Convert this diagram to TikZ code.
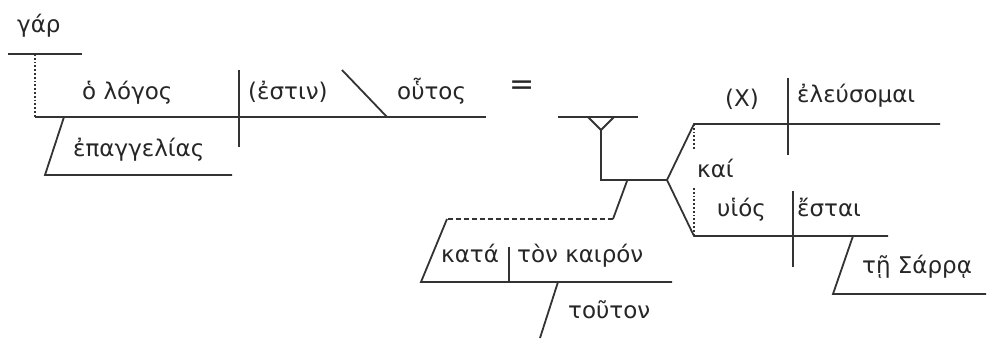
\documentclass[tikz,border=0pt]{standalone}
\usepackage{fontspec}
\newfontfamily\grk{DejaVu Sans}
\usetikzlibrary{positioning}

\begin{document}
\begin{tikzpicture}[
    x=1pt, y=-1pt,
    every node/.style={font=\grk\fontsize{23}{27}\selectfont, inner sep=0pt, text=black!85},
    word/.style={anchor=base west},
    rule/.style={draw=black!80, line width=1.8pt},
    dots/.style={rule, dotted},
    dashrule/.style={rule, dash pattern=on 5pt off 3pt},
  ]
  \useasboundingbox (0,0) rectangle (988,339);

  % Points of the main clause
  \coordinate (gar-l)  at (8, 54);
  \coordinate (gar-r)  at (82, 54);
  \coordinate (gar-d)  at (35, 54);
  \coordinate (base-l) at (35, 117);
  \coordinate (base-r) at (486, 117);
  \coordinate (div1-t) at (239, 70);
  \coordinate (div1-b) at (239, 147);
  \coordinate (pn-t)   at (342, 70);
  \coordinate (pn-b)   at (387, 117);
  \coordinate (mod1-t) at (64, 117);
  \coordinate (mod1-b) at (45, 175);
  \coordinate (mod1-r) at (232, 175);

  % Points of the compound clause
  \coordinate (ex-l)   at (558, 117);
  \coordinate (ex-r)   at (638, 117);
  \coordinate (y-l)    at (588, 117);
  \coordinate (y-m)    at (601, 130);
  \coordinate (y-r)    at (614, 117);
  \coordinate (stem)   at (601, 180);
  \coordinate (fork)   at (667, 180);
  \coordinate (up-l)   at (694, 124);
  \coordinate (up-r)   at (940, 124);
  \coordinate (up-d)   at (694, 150);
  \coordinate (div2-t) at (788, 78);
  \coordinate (div2-b) at (788, 155);
  \coordinate (lo-l)   at (694, 236);
  \coordinate (lo-r)   at (888, 236);
  \coordinate (lo-u)   at (694, 188);
  \coordinate (div3-t) at (793, 191);
  \coordinate (div3-b) at (793, 267);
  \coordinate (mod2-t) at (853, 236);
  \coordinate (mod2-b) at (833, 294);
  \coordinate (mod2-r) at (986, 294);

  % Points of the prepositional phrase
  \coordinate (pp-t)   at (627, 181);
  \coordinate (pp-m)   at (613, 219);
  \coordinate (pp-n)   at (447, 219);
  \coordinate (pp-b)   at (421, 282);
  \coordinate (pp-r)   at (672, 282);
  \coordinate (div4-t) at (509, 247);
  \coordinate (div4-b) at (509, 282);
  \coordinate (mod3-t) at (558, 282);
  \coordinate (mod3-b) at (540, 338);

  % Words
  \node[word] (gar)     at (17, 33)   {γάρ};
  \node[word] (logos)   at (82, 100)  {ὁ λόγος};
  \node[word] (estin)   at (248, 100) {(ἐστιν)};
  \node[word] (houtos)  at (397, 100) {οὗτος};
  \node[word] (epangel) at (73, 157)  {ἐπαγγελίας};
  \node[font=\grk\fontsize{30}{34}\selectfont]
       (equals)         at (522, 88)  {=};
  \node[word] (subjx)   at (725, 107) {(X)};
  \node[word] (eleus)   at (797, 103) {ἐλεύσομαι};
  \node[word] (kai)     at (697, 178) {καί};
  \node[word] (huios)   at (717, 217) {υἱός};
  \node[word] (estai)   at (797, 217) {ἔσται};
  \node[word] (sarra)   at (862, 273) {τῇ Σάρρᾳ};
  \node[word] (kata)    at (441, 262) {κατά};
  \node[word] (kairon)  at (517, 262) {τὸν καιρόν};
  \node[word] (touton)  at (568, 318) {τοῦτον};

  % Main clause
  \draw[rule] (gar-l) -- (gar-r);
  \draw[dots] (gar-d) -- (base-l);
  \draw[rule] (base-l) -- (base-r);
  \draw[rule] (div1-t) -- (div1-b);
  \draw[rule] (pn-t) -- (pn-b);
  \draw[rule] (mod1-t) -- (mod1-b) -- (mod1-r);

  % Compound clause
  \draw[rule] (ex-l) -- (ex-r);
  \draw[rule] (y-l) -- (y-m) -- (y-r);
  \draw[rule] (y-m) -- (stem) -- (fork);
  \draw[rule] (up-r) -- (up-l) -- (fork) -- (lo-l) -- (lo-r);
  \draw[rule] (div2-t) -- (div2-b);
  \draw[rule] (div3-t) -- (div3-b);
  \draw[dots] (up-l) -- (up-d);
  \draw[dots] (lo-u) -- (lo-l);
  \draw[rule] (mod2-t) -- (mod2-b) -- (mod2-r);

  % Prepositional phrase
  \draw[rule] (pp-t) -- (pp-m);
  \draw[dashrule] (pp-m) -- (pp-n);
  \draw[rule] (pp-n) -- (pp-b) -- (pp-r);
  \draw[rule] (div4-t) -- (div4-b);
  \draw[rule] (mod3-t) -- (mod3-b);
\end{tikzpicture}
\end{document}
